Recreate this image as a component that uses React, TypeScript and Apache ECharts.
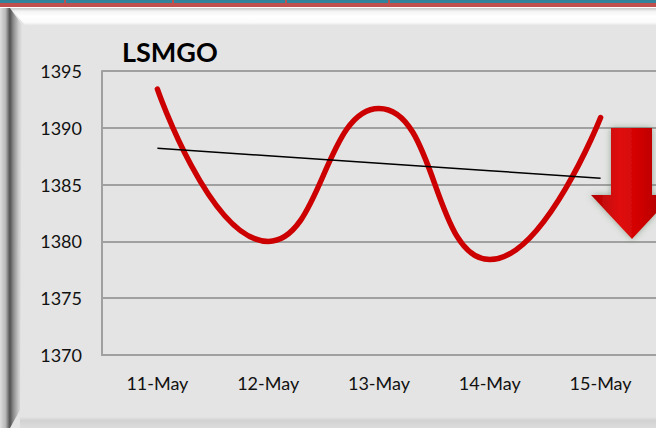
import React, { useEffect, useRef } from "react";
import * as echarts from "echarts";

const categories = ["11-May", "12-May", "13-May", "14-May", "15-May"];
const lsmgo = [1393.4, 1380.0, 1391.7, 1378.4, 1390.9];
const yMin = 1370;
const yMax = 1395;
const yStep = 5;
const titleText = "LSMGO";

// linear trendline (least squares) derived from the series
function trend(vals: number[]): number[] {
  const n = vals.length;
  const mx = (n - 1) / 2;
  const my = vals.reduce((a, b) => a + b, 0) / n;
  let num = 0;
  let den = 0;
  vals.forEach((v, i) => {
    num += (i - mx) * (v - my);
    den += (i - mx) * (i - mx);
  });
  const b = num / den;
  return vals.map((_, i) => +(my + b * (i - mx)).toFixed(3));
}

export default function App() {
  const ref = useRef<HTMLDivElement>(null);
  useEffect(() => {
    document.body.style.margin = "0";
    const chart = echarts.init(ref.current!, null, { renderer: "svg" });
    const font = "Lato, 'Open Sans', sans-serif";
    const trendVals = trend(lsmgo);
    const dividers = [65, 173, 286, 389].map((x) => ({
      type: "rect",
      shape: { x: x - 1, y: 0, width: 2, height: 7 },
      style: { fill: "#c0504d" },
      z: -9,
    }));
    chart.setOption({
      animation: false,
      backgroundColor: "#e4e4e4",
      grid: { left: 102, right: -3, top: 71, bottom: 73 },
      xAxis: {
        type: "category",
        data: categories,
        axisLine: { lineStyle: { color: "#a0a0a0", width: 2 } },
        axisTick: { show: false },
        axisLabel: { color: "#111", fontFamily: font, fontSize: 18, margin: 19 },
      },
      yAxis: {
        type: "value",
        min: yMin,
        max: yMax,
        interval: yStep,
        axisLine: { show: true, lineStyle: { color: "#a0a0a0", width: 2 } },
        axisTick: { show: false },
        splitLine: { lineStyle: { color: "#a0a0a0", width: 2 } },
        axisLabel: {
          color: "#111",
          fontFamily: font,
          fontSize: 18,
          margin: 20,
          formatter: (v: number) => String(v),
        },
      },
      series: [
        {
          type: "line",
          data: lsmgo,
          smooth: 0.5,
          showSymbol: false,
          lineStyle: { color: "#cc0000", width: 5.5, cap: "round" },
          z: 3,
        },
        {
          type: "line",
          data: trendVals,
          showSymbol: false,
          lineStyle: { color: "#000", width: 1.5 },
          z: 4,
        },
      ],
      graphic: [
        { type: "rect", shape: { x: 0, y: 0, width: 656, height: 3 }, style: { fill: "#31849b" }, z: -10 },
        { type: "rect", shape: { x: 0, y: 3, width: 656, height: 4 }, style: { fill: "#c0504d" }, z: -10 },
        ...dividers,
        { type: "rect", shape: { x: 0, y: 7, width: 656, height: 1 }, style: { fill: "#ffffff" }, z: -10 },
        {
          type: "polygon",
          shape: { points: [[0, 8], [656, 8], [656, 25], [25, 25], [10, 8]] },
          style: {
            fill: new echarts.graphic.LinearGradient(0, 0, 0, 1, [
              { offset: 0, color: "#c8c8c8" },
              { offset: 0.2, color: "#f4f4f4" },
              { offset: 0.5, color: "#ffffff" },
              { offset: 0.85, color: "#fafafa" },
              { offset: 1, color: "#e8e8e8" },
            ]),
          },
          z: -10,
        },
        {
          type: "polygon",
          shape: { points: [[0, 8], [10, 8], [22, 25], [20, 410], [10, 428], [0, 428]] },
          style: {
            fill: new echarts.graphic.LinearGradient(0, 0, 1, 0, [
              { offset: 0, color: "#dedede" },
              { offset: 0.25, color: "#b8b8b8" },
              { offset: 0.45, color: "#505050" },
              { offset: 0.6, color: "#8a8a8a" },
              { offset: 0.85, color: "#cccccc" },
              { offset: 1, color: "#e2e2e2" },
            ]),
          },
          z: -9,
        },
        {
          type: "rect",
          shape: { x: 20, y: 417, width: 636, height: 11 },
          style: {
            fill: new echarts.graphic.LinearGradient(0, 0, 0, 1, [
              { offset: 0, color: "#e4e4e4" },
              { offset: 0.3, color: "#d2d2d2" },
              { offset: 1, color: "#dcdcdc" },
            ]),
          },
          z: -10,
        },
        {
          type: "text",
          x: 122,
          y: 51,
          style: {
            text: titleText,
            fontFamily: font,
            fontWeight: "bold",
            fontSize: 27,
            fill: "#000",
            textVerticalAlign: "middle",
          },
          z: 10,
        },
        {
          type: "polygon",
          shape: {
            points: [[611, 128], [652, 128], [652, 195], [673, 195], [632, 239], [591, 195], [611, 195]],
          },
          style: {
            fill: new echarts.graphic.LinearGradient(0, 0, 1, 0, [
              { offset: 0, color: "#b00000" },
              { offset: 0.35, color: "#e01010" },
              { offset: 0.6, color: "#d00000" },
              { offset: 1, color: "#a00000" },
            ]),
            shadowBlur: 6,
            shadowColor: "rgba(60,100,60,0.5)",
          },
          z: 20,
        },
      ],
    });
    return () => chart.dispose();
  }, []);
  return (
    <div
      ref={ref}
      style={{ position: "fixed", left: 0, top: 0, width: 656, height: 428 }}
    />
  );
}
